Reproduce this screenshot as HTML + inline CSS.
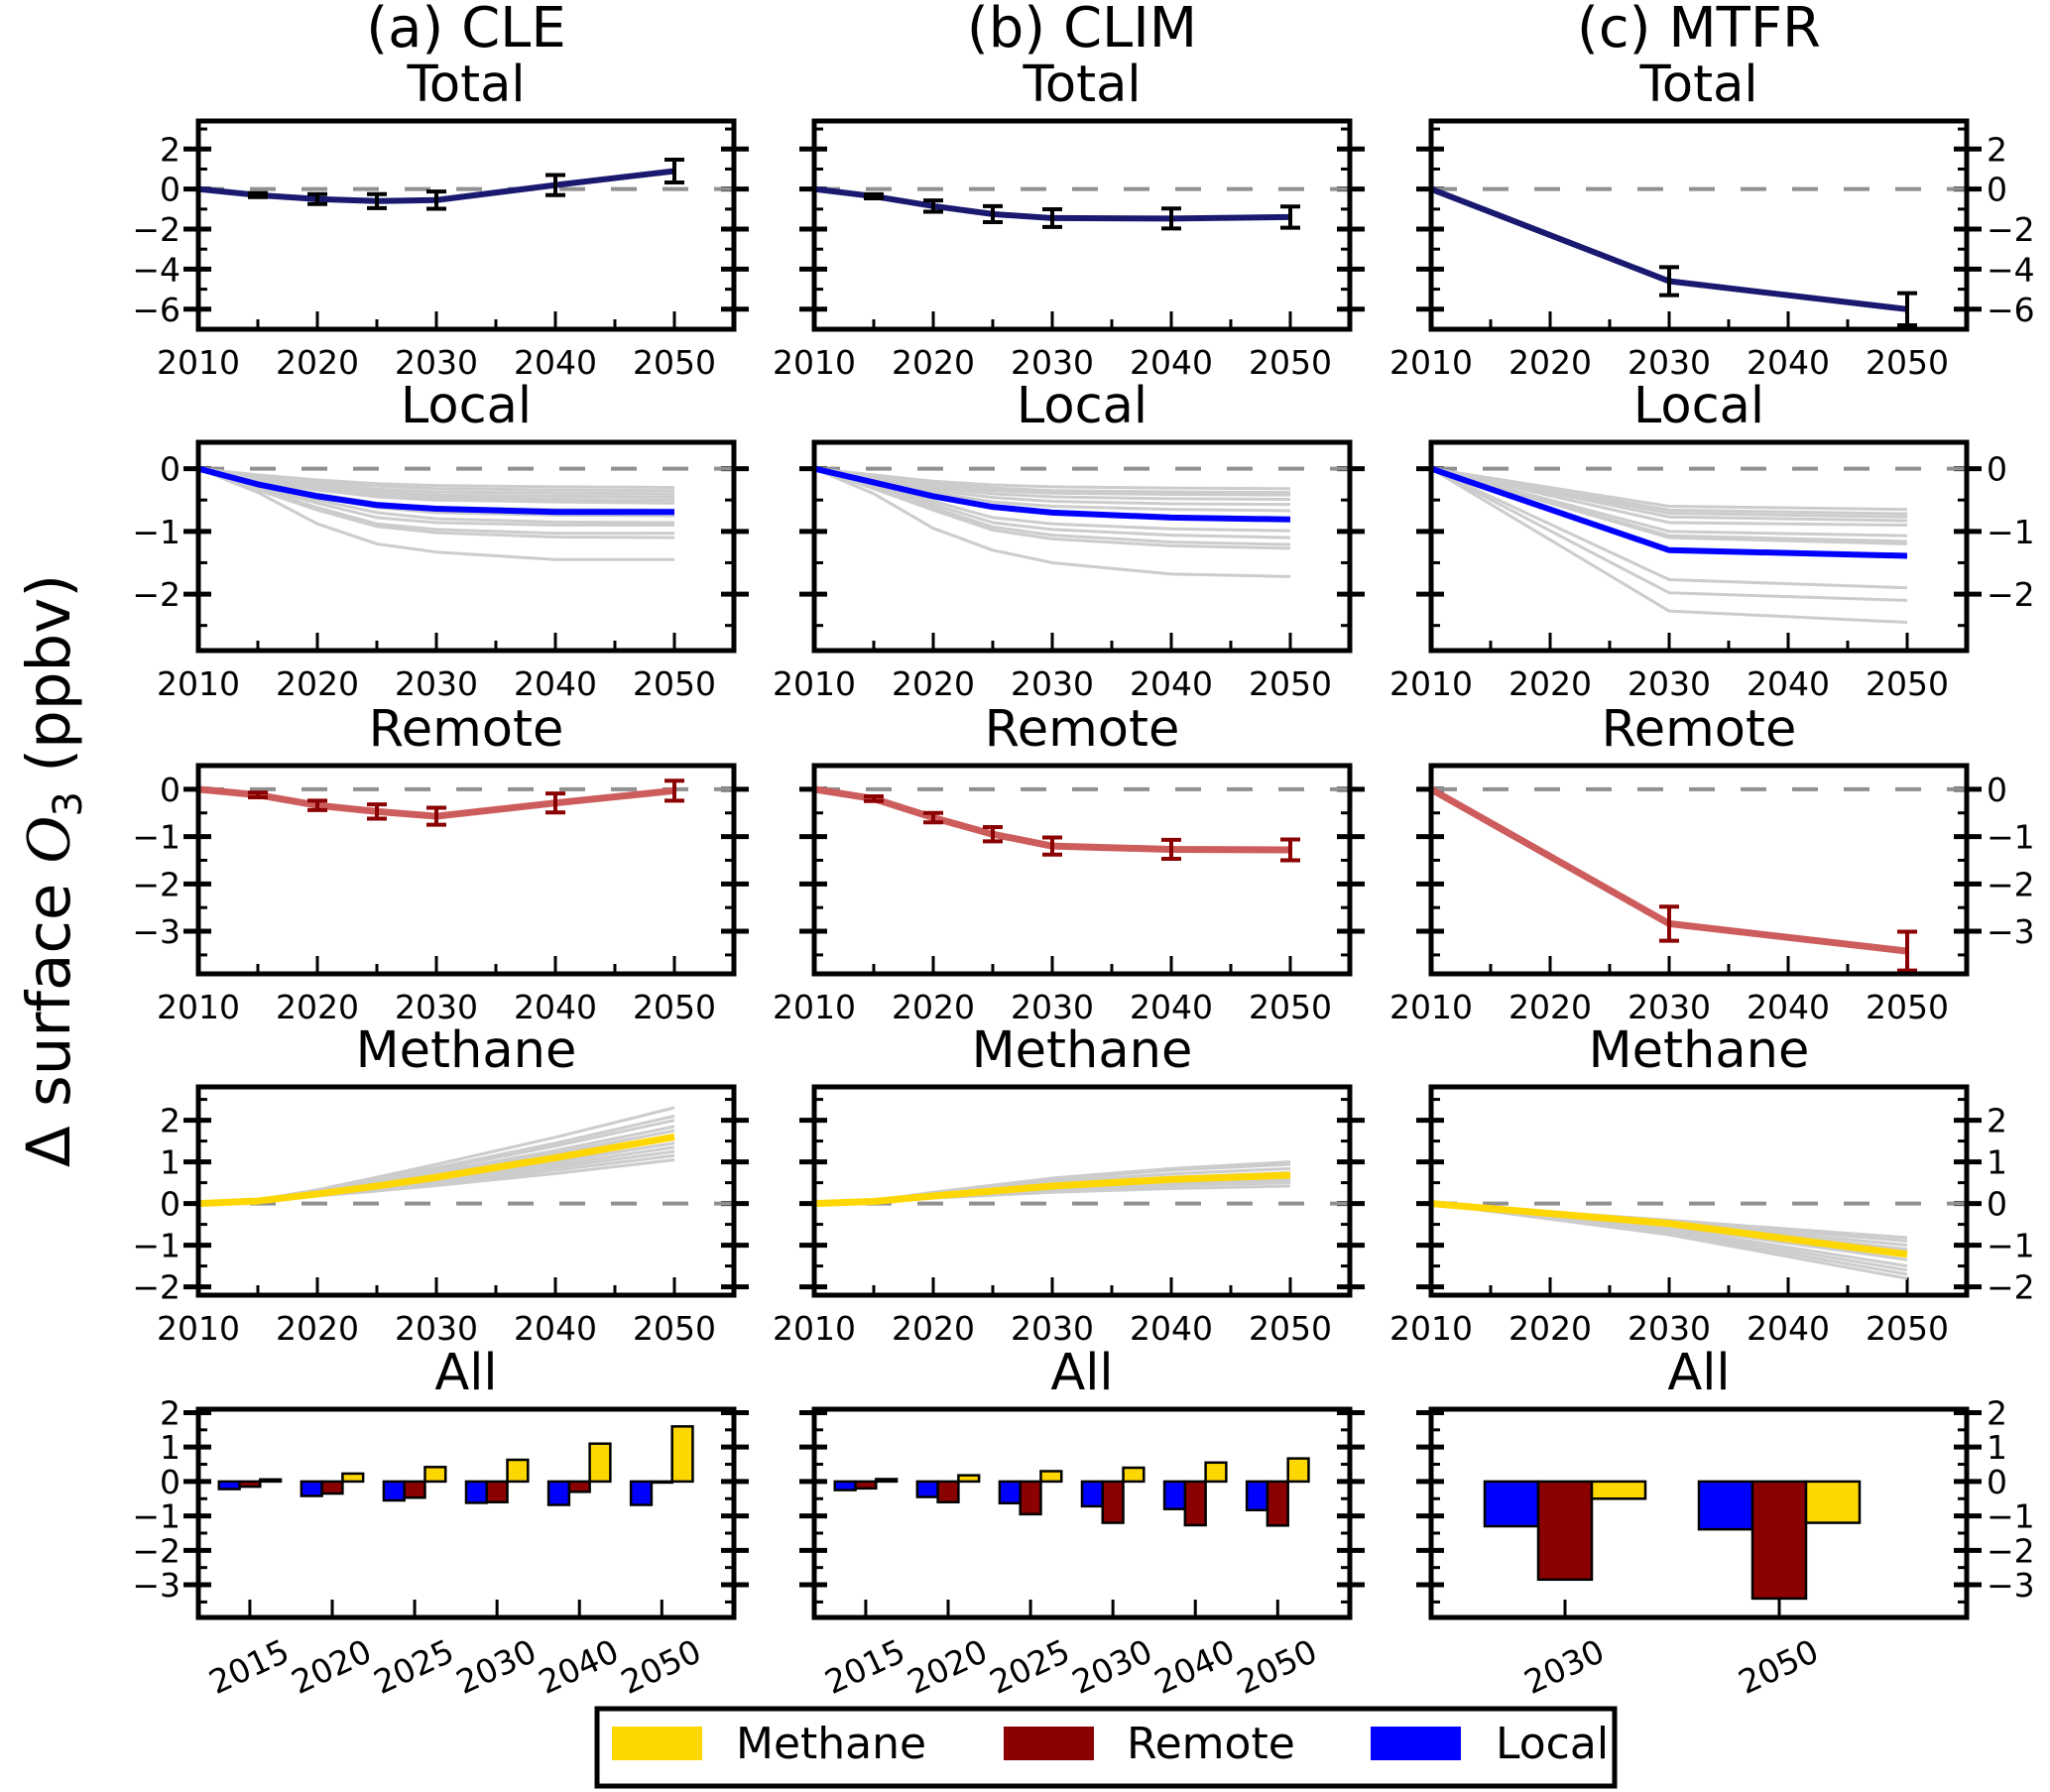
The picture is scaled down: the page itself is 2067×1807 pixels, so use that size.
<!DOCTYPE html>
<html><head><meta charset="utf-8">
<style>
html,body{margin:0;padding:0;background:#fff;}
svg{display:block;font-family:"DejaVu Sans","Liberation Sans",sans-serif;}
</style></head>
<body>
<svg id="fig" width="2067" height="1807" viewBox="0 0 2067 1807" xmlns="http://www.w3.org/2000/svg">
<text transform="translate(70,878) rotate(-90)" text-anchor="middle" font-size="61">Δ surface <tspan font-style="italic" font-family="Liberation Serif, serif" font-size="66">O</tspan><tspan font-size="40" dy="12">3</tspan><tspan dy="-12"> (ppbv)</tspan></text>
</svg>
<script>
// ---------- DATA ----------
const yearsFull = [2010, 2015, 2020, 2025, 2030, 2040, 2050];
const yearsMTFR = [2010, 2030, 2050];
const scenarioTitles = ["(a) CLE", "(b) CLIM", "(c) MTFR"];
const rowTitles = ["Total", "Local", "Remote", "Methane", "All"];

const totalCLE = [0, -0.3, -0.5, -0.6, -0.55, 0.2, 0.9];
const totalCLEErr = [0.05, 0.1, 0.25, 0.35, 0.43, 0.5, 0.57];
const totalCLIM = [0, -0.36, -0.85, -1.25, -1.45, -1.47, -1.4];
const totalCLIMErr = [0.05, 0.1, 0.28, 0.4, 0.44, 0.5, 0.53];
const totalMTFR = [0, -4.6, -6.0];
const totalMTFRErr = [0.05, 0.7, 0.8];

const localCLE = [0, -0.25, -0.44, -0.58, -0.64, -0.69, -0.69];
const localCLEGray = [
  [0,-0.1,-0.18,-0.24,-0.27,-0.29,-0.3],
  [0,-0.12,-0.21,-0.28,-0.32,-0.34,-0.35],
  [0,-0.14,-0.24,-0.33,-0.37,-0.39,-0.4],
  [0,-0.16,-0.28,-0.37,-0.42,-0.44,-0.45],
  [0,-0.18,-0.31,-0.41,-0.46,-0.49,-0.5],
  [0,-0.2,-0.34,-0.45,-0.5,-0.53,-0.55],
  [0,-0.22,-0.4,-0.55,-0.62,-0.65,-0.66],
  [0,-0.25,-0.45,-0.62,-0.7,-0.74,-0.75],
  [0,-0.27,-0.5,-0.7,-0.8,-0.85,-0.86],
  [0,-0.3,-0.55,-0.78,-0.86,-0.9,-0.9],
  [0,-0.32,-0.62,-0.88,-0.97,-1.03,-1.03],
  [0,-0.34,-0.66,-0.92,-1.02,-1.09,-1.1],
  [0,-0.38,-0.88,-1.2,-1.33,-1.45,-1.45]
];
const localCLIM = [0, -0.22, -0.44, -0.61, -0.7, -0.78, -0.81];
const localCLIMGray = [
  [0,-0.1,-0.2,-0.26,-0.29,-0.31,-0.32],
  [0,-0.12,-0.23,-0.31,-0.35,-0.37,-0.38],
  [0,-0.14,-0.26,-0.35,-0.39,-0.41,-0.42],
  [0,-0.16,-0.3,-0.4,-0.45,-0.48,-0.49],
  [0,-0.18,-0.34,-0.46,-0.52,-0.56,-0.57],
  [0,-0.2,-0.38,-0.53,-0.6,-0.65,-0.67],
  [0,-0.25,-0.52,-0.78,-0.88,-0.96,-0.99],
  [0,-0.28,-0.57,-0.86,-0.97,-1.06,-1.1],
  [0,-0.3,-0.62,-0.93,-1.06,-1.17,-1.21],
  [0,-0.32,-0.66,-0.98,-1.12,-1.23,-1.27],
  [0,-0.4,-0.95,-1.3,-1.5,-1.68,-1.72]
];
const localMTFR = [0, -1.3, -1.39];
const localMTFRGray = [
  [0,-0.6,-0.65],[0,-0.66,-0.72],[0,-0.71,-0.77],[0,-0.77,-0.83],
  [0,-0.86,-0.9],[0,-1.0,-1.07],[0,-1.07,-1.16],[0,-1.1,-1.2],
  [0,-1.77,-1.9],[0,-1.98,-2.1],[0,-2.27,-2.45]
];

const remoteCLE = [0, -0.12, -0.34, -0.47, -0.57, -0.29, -0.03];
const remoteCLEErr = [0.02, 0.05, 0.1, 0.15, 0.18, 0.2, 0.21];
const remoteCLIM = [0, -0.2, -0.6, -0.95, -1.2, -1.27, -1.28];
const remoteCLIMErr = [0.02, 0.05, 0.1, 0.15, 0.18, 0.2, 0.22];
const remoteMTFR = [0, -2.84, -3.42];
const remoteMTFRErr = [0.02, 0.36, 0.41];

const methaneCLE = [0, 0.06, 0.23, 0.42, 0.63, 1.1, 1.6];
const methaneCLEGray = [
  [0,0.05,0.18,0.3,0.43,0.72,1.05],
  [0,0.05,0.19,0.32,0.47,0.8,1.15],
  [0,0.05,0.2,0.35,0.51,0.87,1.25],
  [0,0.06,0.21,0.37,0.55,0.93,1.35],
  [0,0.06,0.22,0.4,0.59,1.0,1.45],
  [0,0.06,0.23,0.43,0.63,1.07,1.55],
  [0,0.07,0.26,0.48,0.72,1.2,1.75],
  [0,0.07,0.27,0.51,0.76,1.27,1.85],
  [0,0.08,0.29,0.55,0.82,1.38,2.0],
  [0,0.08,0.3,0.58,0.86,1.45,2.1],
  [0,0.09,0.33,0.63,0.94,1.59,2.3]
];
const methaneCLIM = [0, 0.05, 0.18, 0.3, 0.42, 0.58, 0.68];
const methaneCLIMGray = [
  [0,0.04,0.13,0.2,0.27,0.36,0.42],
  [0,0.04,0.15,0.23,0.32,0.43,0.5],
  [0,0.05,0.17,0.26,0.36,0.49,0.57],
  [0,0.05,0.19,0.3,0.41,0.56,0.65],
  [0,0.06,0.21,0.33,0.46,0.63,0.74],
  [0,0.06,0.23,0.37,0.52,0.71,0.84],
  [0,0.07,0.26,0.42,0.58,0.8,0.94],
  [0,0.07,0.27,0.44,0.61,0.84,1.0]
];
const methaneMTFR = [0, -0.48, -1.22];
const methaneMTFRGray = [
  [0,-0.4,-0.82],[0,-0.42,-0.9],[0,-0.45,-1.0],[0,-0.47,-1.1],
  [0,-0.5,-1.2],[0,-0.55,-1.35],[0,-0.6,-1.5],[0,-0.65,-1.6],
  [0,-0.7,-1.7],[0,-0.75,-1.8]
];

const barCatsFull = ["2015", "2020", "2025", "2030", "2040", "2050"];
const barCatsMTFR = ["2030", "2050"];
const barLocalCLE = [-0.22, -0.42, -0.55, -0.62, -0.68, -0.68];
const barRemoteCLE = [-0.15, -0.35, -0.47, -0.6, -0.3, -0.03];
const barMethaneCLE = [0.06, 0.23, 0.42, 0.63, 1.1, 1.6];
const barLocalCLIM = [-0.25, -0.45, -0.63, -0.72, -0.8, -0.83];
const barRemoteCLIM = [-0.2, -0.6, -0.95, -1.2, -1.27, -1.28];
const barMethaneCLIM = [0.07, 0.18, 0.3, 0.4, 0.55, 0.67];
const barLocalMTFR = [-1.3, -1.39];
const barRemoteMTFR = [-2.85, -3.4];
const barMethaneMTFR = [-0.5, -1.2];

const legendLabels = ["Methane", "Remote", "Local"];

// ---------- LAYOUT ----------
const NS = "http://www.w3.org/2000/svg";
const svg = document.getElementById("fig");
const colLeft = [200, 821, 1443], PW = 540, PH = 210;
const rowTop = [122, 446, 772, 1096, 1421];
const C = {navy:"#191970", blue:"#0000ff", red:"#cd5c5c", dred:"#8b0000", gold:"#ffd700", gray:"#cccccc"};

function el(tag, attrs, parent) {
  const e = document.createElementNS(NS, tag);
  for (const k in attrs) e.setAttribute(k, attrs[k]);
  (parent || svg).appendChild(e);
  return e;
}

function makeAxes(col, row, ylim, majors, minorStep, xkind, cats) {
  const g = el("g", {});
  
  
  const L = colLeft[col], T = rowTop[row], R = L + PW, B = T + PH;
  const yS = v => T + (ylim[1] - v) / (ylim[1] - ylim[0]) * PH;
  let xS;
  if (xkind === "year") xS = v => L + (v - 2010) / 45 * PW;
  else { const n = cats.length; xS = v => L + (v + 0.625) / (n - 1 + 1.5) * PW; }
  // title
  const t = el("text", {x: L + PW / 2, y: T - 20, "text-anchor": "middle", "font-size": 51}, g);
  t.textContent = rowTitles[row];
  
  
  // y ticks
  const tg = el("g", {stroke: "#000"}, g);
  for (let v = Math.ceil(ylim[0] / minorStep) * minorStep; v <= ylim[1] + 1e-9; v += minorStep) {
    const y = yS(v);
    el("line", {x1: L, x2: L + 9, y1: y, y2: y, "stroke-width": 3}, tg);
    el("line", {x1: R - 9, x2: R, y1: y, y2: y, "stroke-width": 3}, tg);
  }
  majors.forEach(v => {
    const y = yS(v);
    el("line", {x1: L - 15, x2: L + 13, y1: y, y2: y, "stroke-width": 5}, tg);
    el("line", {x1: R - 13, x2: R + 15, y1: y, y2: y, "stroke-width": 5}, tg);
    const lab = v < 0 ? "\u2212" + Math.abs(v) : String(v);
    if (col === 0) {
      const tx = el("text", {x: L - 18, y: y + 12, "text-anchor": "end", "font-size": 33}, g);
      tx.textContent = lab;
      
      
    } else if (col === 2) {
      const tx = el("text", {x: R + 20, y: y + 12, "text-anchor": "start", "font-size": 33}, g);
      tx.textContent = lab;
      
      
    }
  });
  // x ticks
  if (xkind === "year") {
    for (let yr = 2015; yr <= 2050; yr += 10) el("line", {x1: xS(yr), x2: xS(yr), y1: B, y2: B - 10, "stroke-width": 3}, tg);
    for (let yr = 2010; yr <= 2050; yr += 10) {
      el("line", {x1: xS(yr), x2: xS(yr), y1: B, y2: B - 18, "stroke-width": 3}, tg);
      const tx = el("text", {x: xS(yr), y: B + 45, "text-anchor": "middle", "font-size": 33}, g);
      tx.textContent = String(yr);
      
      
    }
  } else {
    cats.forEach((c, i) => {
      const x = xS(i);
      el("line", {x1: x, x2: x, y1: B, y2: B - 18, "stroke-width": 3}, tg);
      const tx = el("text", {"text-anchor": "middle", "font-size": 33, transform: `translate(${x + 4},${B + 60}) rotate(-25)`}, g);
      tx.textContent = c;
      
      
    });
  }
  if (xkind === "year") {
    const z = el("line", {x1: L, x2: R, y1: yS(0), y2: yS(0), stroke: "#909090", "stroke-width": 4, "stroke-dasharray": "26,26"}, g);
    
    
  }
  const dg = el("g", {}, g);
  return {g, dg, L, T, R, B, xS, yS, frame() {
    const f = el("rect", {x: L, y: T, width: PW, height: PH, fill: "none", stroke: "#000", "stroke-width": 5}, g);
    
    
  }};
}

function line(ax, xs, ys, color, w, name) {
  const p = el("polyline", {points: xs.map((x, i) => ax.xS(x) + "," + ax.yS(ys[i])).join(" "), fill: "none", stroke: color, "stroke-width": w, "stroke-linejoin": "round"}, ax.dg);
  
  
}
function errs(ax, xs, ys, es, color) {
  xs.forEach((x, i) => {
    if (i === 0) return;
    const X = ax.xS(x), y1 = ax.yS(ys[i] - es[i]), y2 = ax.yS(ys[i] + es[i]);
    const g = el("g", {stroke: color, "stroke-width": 4}, ax.dg);
    
    
    el("line", {x1: X, x2: X, y1: y1, y2: y2}, g);
    el("line", {x1: X - 10, x2: X + 10, y1: y1, y2: y1}, g);
    el("line", {x1: X - 10, x2: X + 10, y1: y2, y2: y2}, g);
  });
}
function bars(ax, loc, rem, meth) {
  [[loc, C.blue, -0.375, 'bar-local'], [rem, C.dred, -0.125, 'bar-remote'], [meth, C.gold, 0.125, 'bar-methane']].forEach(([vals, col, off, nm]) => {
    vals.forEach((v, i) => {
      const x1 = ax.xS(i + off), x2 = ax.xS(i + off + 0.25);
      const y1 = ax.yS(Math.max(0, v)), y2 = ax.yS(Math.min(0, v));
      const r = el("rect", {x: x1, y: y1, width: x2 - x1, height: Math.max(y2 - y1, 0.5), fill: col, stroke: "#000", "stroke-width": 2.5}, ax.dg);
      
      
    });
  });
}

// column titles
scenarioTitles.forEach((s, i) => {
  const t = el("text", {x: colLeft[i] + PW / 2, y: 47, "text-anchor": "middle", "font-size": 56});
  t.textContent = s;
  
  
});

const yl = {total: [-7, 3.4], local: [-2.9, 0.42], remote: [-3.9, 0.5], methane: [-2.2, 2.8], all: [-3.95, 2.1]};
const totals = [[totalCLE, totalCLEErr], [totalCLIM, totalCLIMErr], [totalMTFR, totalMTFRErr]];
const locals = [[localCLE, localCLEGray], [localCLIM, localCLIMGray], [localMTFR, localMTFRGray]];
const remotes = [[remoteCLE, remoteCLEErr], [remoteCLIM, remoteCLIMErr], [remoteMTFR, remoteMTFRErr]];
const methanes = [[methaneCLE, methaneCLEGray], [methaneCLIM, methaneCLIMGray], [methaneMTFR, methaneMTFRGray]];
const allBars = [[barLocalCLE, barRemoteCLE, barMethaneCLE], [barLocalCLIM, barRemoteCLIM, barMethaneCLIM], [barLocalMTFR, barRemoteMTFR, barMethaneMTFR]];

for (let c = 0; c < 3; c++) {
  const yrs = c === 2 ? yearsMTFR : yearsFull;
  let ax = makeAxes(c, 0, yl.total, [-6, -4, -2, 0, 2], 1, "year");
  line(ax, yrs, totals[c][0], C.navy, 6, 'total-line');
  errs(ax, yrs, totals[c][0], totals[c][1], "#000");
  ax.frame();

  ax = makeAxes(c, 1, yl.local, [-2, -1, 0], 0.5, "year");
  locals[c][1].forEach(s => line(ax, yrs, s, C.gray, 3, 'local-member-line'));
  line(ax, yrs, locals[c][0], C.blue, 6, 'local-mean-line');
  ax.frame();

  ax = makeAxes(c, 2, yl.remote, [-3, -2, -1, 0], 0.5, "year");
  line(ax, yrs, remotes[c][0], C.red, 7, 'remote-line');
  errs(ax, yrs, remotes[c][0], remotes[c][1], C.dred);
  ax.frame();

  ax = makeAxes(c, 3, yl.methane, [-2, -1, 0, 1, 2], 0.5, "year");
  methanes[c][1].forEach(s => line(ax, yrs, s, C.gray, 3, 'methane-member-line'));
  line(ax, yrs, methanes[c][0], C.gold, 7, 'methane-mean-line');
  ax.frame();

  const cats = c === 2 ? barCatsMTFR : barCatsFull;
  ax = makeAxes(c, 4, yl.all, [-3, -2, -1, 0, 1, 2], 0.5, "cat", cats);
  bars(ax, allBars[c][0], allBars[c][1], allBars[c][2]);
  ax.frame();
}

// legend
const lg = el("g", {});


el("rect", {x: 602, y: 1723, width: 1026, height: 78, fill: "#fff", stroke: "#000", "stroke-width": 5}, lg);
const patchX = [617, 1012, 1382], textX = [742, 1136, 1508], patchC = [C.gold, C.dred, C.blue];
legendLabels.forEach((lab, i) => {
  const p = el("rect", {x: patchX[i], y: 1741, width: 91, height: 34, fill: patchC[i]}, lg);
  
  
  const t = el("text", {x: textX[i], y: 1773, "font-size": 44}, lg);
  t.textContent = lab;
  
  
});
</script>
</body></html>
